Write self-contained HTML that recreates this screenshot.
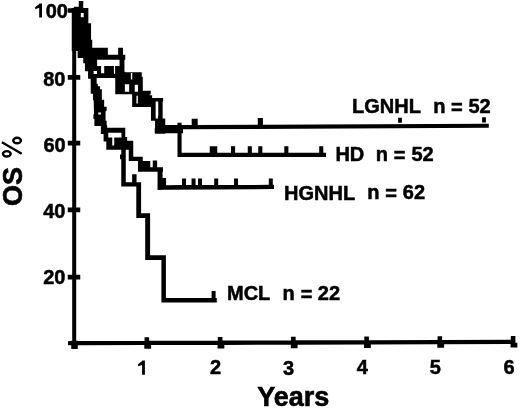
<!DOCTYPE html>
<html><head><meta charset="utf-8"><style>
html,body{margin:0;padding:0;background:#fff;width:520px;height:408px;overflow:hidden}
svg{display:block;filter:grayscale(1)}
</style></head><body>
<svg width="520" height="408" viewBox="0 0 520 408">
<rect width="520" height="408" fill="#fff"/>
<g>
<path fill="#000" fill-rule="evenodd" d="M67.75,8.15 L67.75,12.85 L71.75,12.85 L71.75,50.95 L72.20,50.95 L72.20,74.95 L67.75,74.95 L67.75,79.65 L72.20,79.65 L72.20,140.85 L67.75,140.85 L67.75,145.55 L72.20,145.55 L72.20,207.45 L67.75,207.45 L67.75,212.15 L72.20,212.15 L72.20,274.85 L67.75,274.85 L67.75,279.55 L72.20,279.55 L72.20,340.75 L71.25,340.75 L71.25,341.12 L68.00,341.13 L68.00,345.30 L71.25,345.29 L71.25,348.95 L77.75,348.95 L77.75,345.27 L144.30,345.09 L144.30,348.70 L151.10,348.70 L151.10,345.08 L217.55,344.90 L217.55,348.46 L224.35,348.46 L224.35,344.88 L290.80,344.70 L290.80,348.22 L297.60,348.22 L297.60,344.68 L364.05,344.50 L364.05,347.98 L370.85,347.98 L370.85,344.48 L437.30,344.30 L437.30,347.73 L444.10,347.73 L444.10,344.29 L510.55,344.11 L510.55,347.49 L517.35,347.49 L517.35,342.64 L515.40,342.64 L515.40,336.09 L510.80,336.09 L510.80,339.66 L442.15,339.89 L442.15,336.33 L437.55,336.33 L437.55,339.90 L368.90,340.13 L368.90,336.58 L364.30,336.58 L364.30,340.14 L295.65,340.37 L295.65,336.82 L291.05,336.82 L291.05,340.39 L222.40,340.62 L222.40,337.06 L217.80,337.06 L217.80,340.63 L149.15,340.86 L149.15,337.30 L144.55,337.30 L144.55,340.88 L77.75,341.10 L77.75,340.75 L76.20,340.75 L76.20,279.55 L80.25,279.55 L80.25,274.85 L76.20,274.85 L76.20,212.15 L80.25,212.15 L80.25,207.45 L76.20,207.45 L76.20,145.55 L80.25,145.55 L80.25,140.85 L76.20,140.85 L76.20,79.65 L80.25,79.65 L80.25,74.95 L76.20,74.95 L76.20,50.95 L77.65,50.95 L77.65,58.05 L83.25,58.05 L83.25,63.25 L84.95,63.25 L84.95,71.25 L88.05,71.25 L88.05,78.65 L90.65,78.65 L90.75,93.75 L92.95,93.75 L92.95,100.25 L93.66,100.25 L93.99,114.35 L93.40,114.35 L93.40,118.75 L94.40,118.75 L94.40,126.00 L100.85,126.00 L100.85,134.00 L103.60,134.00 L103.60,141.60 L106.30,141.60 L106.30,149.80 L121.25,149.80 L121.25,154.45 L120.05,154.45 L120.05,159.25 L121.25,159.25 L121.25,186.55 L136.30,186.55 L136.30,218.00 L145.20,218.00 L145.20,260.00 L161.40,260.00 L161.40,302.60 L216.80,302.60 L216.80,297.90 L215.60,297.90 L215.60,291.00 L211.60,291.00 L211.60,297.90 L165.90,297.90 L165.90,255.30 L150.10,255.30 L150.10,213.30 L141.10,213.30 L141.10,182.15 L136.55,182.15 L136.55,174.25 L132.15,174.25 L132.15,182.15 L125.75,182.15 L125.75,149.80 L128.75,149.80 L128.75,161.05 L137.95,161.05 L137.95,171.85 L157.55,171.85 L157.55,189.85 L157.80,189.85 L157.80,189.90 L164.48,189.85 L166.05,189.85 L166.05,189.84 L274.00,189.00 L274.00,184.83 L272.80,184.83 L272.80,178.60 L268.80,178.60 L268.80,184.84 L238.05,184.93 L238.05,178.60 L234.05,178.60 L234.05,184.94 L218.20,184.98 L218.20,178.60 L214.20,178.60 L214.20,184.99 L202.00,185.03 L202.00,178.60 L198.00,178.60 L198.00,185.04 L195.55,185.05 L195.55,178.60 L191.55,178.60 L191.55,185.06 L186.00,185.07 L186.00,178.60 L182.00,178.60 L182.00,185.08 L166.05,185.13 L166.05,178.05 L162.55,178.05 L162.55,171.85 L162.95,171.85 L162.95,167.35 L157.15,167.35 L157.15,160.55 L152.75,160.55 L152.75,167.35 L150.25,167.35 L150.25,161.05 L142.75,161.05 L142.75,156.65 L133.25,156.65 L133.25,140.75 L127.15,140.75 L127.15,137.05 L125.25,137.05 L125.25,127.75 L121.25,127.75 L121.25,127.85 L107.15,127.85 L107.15,125.25 L106.65,125.25 L106.65,120.75 L105.55,120.75 L105.55,111.16 L106.65,110.66 L106.65,106.75 L104.15,106.75 L104.15,99.75 L101.85,99.75 L101.85,89.25 L100.05,89.25 L100.05,86.35 L97.85,86.35 L97.85,83.75 L96.65,83.75 L96.65,77.95 L115.25,77.95 L115.25,94.35 L132.15,94.35 L132.15,107.05 L150.95,107.05 L150.95,120.75 L155.05,120.75 L155.05,128.25 L154.75,128.25 L154.75,133.35 L155.05,133.35 L155.05,133.75 L165.25,133.75 L165.25,133.35 L177.50,133.35 L177.50,157.10 L326.00,157.10 L326.00,152.70 L323.30,152.70 L323.30,146.30 L319.20,146.30 L319.20,152.70 L288.40,152.70 L288.40,146.30 L284.30,146.30 L284.30,152.70 L262.35,152.70 L262.35,146.30 L258.25,146.30 L258.25,152.70 L251.85,152.70 L251.85,146.30 L247.75,146.30 L247.75,152.70 L235.10,152.70 L235.10,146.30 L231.00,146.30 L231.00,152.70 L217.25,152.70 L217.25,146.30 L209.75,146.30 L209.75,152.70 L181.60,152.70 L181.60,133.35 L183.05,133.35 L183.05,129.21 L488.80,127.81 L488.80,123.73 L262.90,124.67 L262.90,117.90 L257.80,117.90 L257.80,124.69 L197.70,124.94 L197.70,118.80 L191.70,118.80 L191.70,124.97 L181.60,125.01 L181.60,122.75 L177.50,122.75 L177.50,125.03 L165.25,125.08 L165.25,118.55 L162.65,118.55 L162.65,101.45 L163.15,101.45 L163.15,97.95 L152.15,97.95 L152.15,95.25 L149.65,95.25 L149.65,94.35 L150.75,94.35 L150.75,90.75 L142.80,90.75 L142.80,76.75 L141.75,76.75 L141.75,72.35 L125.25,72.35 L125.25,71.75 L124.45,71.75 L124.45,59.75 L125.25,59.75 L125.25,54.85 L124.45,54.85 L124.45,54.75 L122.95,54.75 L122.95,47.75 L118.15,47.75 L118.15,54.85 L107.85,54.85 L107.85,47.75 L92.25,47.75 L92.25,39.75 L91.05,39.75 L91.05,23.25 L88.35,23.25 L88.35,8.05 L83.25,8.05 L83.25,1.05 L78.75,1.05 L78.75,6.75 L73.75,6.75 L73.75,8.05 L71.75,8.05 L71.75,8.15ZM157.95,102.15 L158.25,102.15 L158.25,116.25 L157.95,116.25 L157.95,118.55 L155.65,118.55 L155.65,116.25 L155.65,102.15 L155.65,101.45 L157.95,101.45ZM97.15,59.75 L119.55,59.75 L119.55,65.95 L115.10,65.95 L115.10,73.75 L113.90,73.75 L113.90,65.95 L104.20,65.95 L104.20,73.30 L101.10,73.30 L101.10,65.95 L97.15,65.95ZM138.05,84.85 L138.05,91.85 L134.75,91.85 L134.75,84.85ZM137.85,103.45 L136.45,103.45 L136.45,95.75 L137.85,95.75ZM132.25,79.45 L130.85,79.45 L130.85,72.95 L132.25,72.95ZM129.15,84.35 L129.15,91.85 L124.85,91.85 L124.85,84.35ZM112.25,137.55 L108.25,137.55 L108.25,132.85 L121.45,132.85 L121.45,137.55 L114.25,137.55 L114.25,145.55 L112.25,145.55ZM100.90,112.60 L100.90,114.60 L98.30,114.60 L98.30,112.60ZM97.00,73.90 L93.60,73.90 L93.60,71.00 L97.00,71.00ZM83.70,17.30 L80.80,17.30 L80.80,12.90 L83.70,12.90ZM482.10,117.30 L482.10,122.40 L485.90,122.40 L485.90,117.30ZM401.90,117.80 L398.10,117.80 L398.10,122.70 L401.90,122.70Z"/>
</g>
<g font-family="Liberation Sans, sans-serif" font-weight="bold" fill="#000" stroke="#000"><text x="45.70" y="17.70" font-size="20" stroke-width="0.5">00</text><text x="43.20" y="85.90" font-size="20" stroke-width="0.5">80</text><text x="43.40" y="151.70" font-size="20" stroke-width="0.5">60</text><text x="43.20" y="217.70" font-size="20" stroke-width="0.5">40</text><text x="43.20" y="284.20" font-size="20" stroke-width="0.5">20</text><text x="210.10" y="374.00" font-size="20" stroke-width="0.5">2</text><text x="283.10" y="374.70" font-size="20" stroke-width="0.5">3</text><text x="356.70" y="374.00" font-size="20" stroke-width="0.5">4</text><text x="429.70" y="373.80" font-size="20" stroke-width="0.5">5</text><text x="503.50" y="373.50" font-size="20" stroke-width="0.5">6</text><text x="352.10" y="112.80" font-size="20" stroke-width="0.5">LGNHL</text><text x="433.30" y="112.70" font-size="20" stroke-width="0.5">n</text><text x="451.10" y="113.80" font-size="20" stroke-width="0.5">=</text><text x="468.40" y="112.70" font-size="20" stroke-width="0.5">52</text><text x="335.40" y="160.85" font-size="20" stroke-width="0.5">HD</text><text x="375.70" y="160.70" font-size="20" stroke-width="0.5">n</text><text x="393.70" y="162.10" font-size="20" stroke-width="0.5">=</text><text x="411.50" y="160.80" font-size="20" stroke-width="0.5">52</text><text x="284.00" y="199.60" font-size="20" stroke-width="0.5">HGNHL</text><text x="367.25" y="199.30" font-size="20" stroke-width="0.5">n</text><text x="385.25" y="200.40" font-size="20" stroke-width="0.5">=</text><text x="402.80" y="199.00" font-size="20" stroke-width="0.5">62</text><text x="227.00" y="300.00" font-size="20" stroke-width="0.5">MCL</text><text x="282.50" y="299.50" font-size="20" stroke-width="0.5">n</text><text x="300.80" y="300.50" font-size="20" stroke-width="0.5">=</text><text x="317.80" y="299.80" font-size="20" stroke-width="0.5">22</text><text x="257.20" y="406.00" font-size="27" stroke-width="0.6">Years</text><path d="M39.20,3.40 H42.00 V17.60 H39.20 Z M40.10,3.40 L40.10,7.60 L35.20,9.20 L35.20,6.90 Z M142.10,360.50 H144.90 V374.70 H142.10 Z M143.00,360.50 L143.00,364.70 L138.10,366.30 L138.10,364.00 Z " fill="#000" stroke="none"/></g>
<text transform="translate(22.1,206.1) rotate(-90)" font-family="Liberation Sans, sans-serif" font-weight="bold" font-size="27" stroke="#000" stroke-width="0.6">OS</text><g fill="none" stroke="#000" stroke-width="2.4"><ellipse cx="17.1" cy="140.55" rx="3.85" ry="2.75"/><ellipse cx="6.8" cy="153.85" rx="3.85" ry="2.7"/><line x1="1.9" y1="142.2" x2="21.7" y2="153.7"/></g>
</svg>
</body></html>
